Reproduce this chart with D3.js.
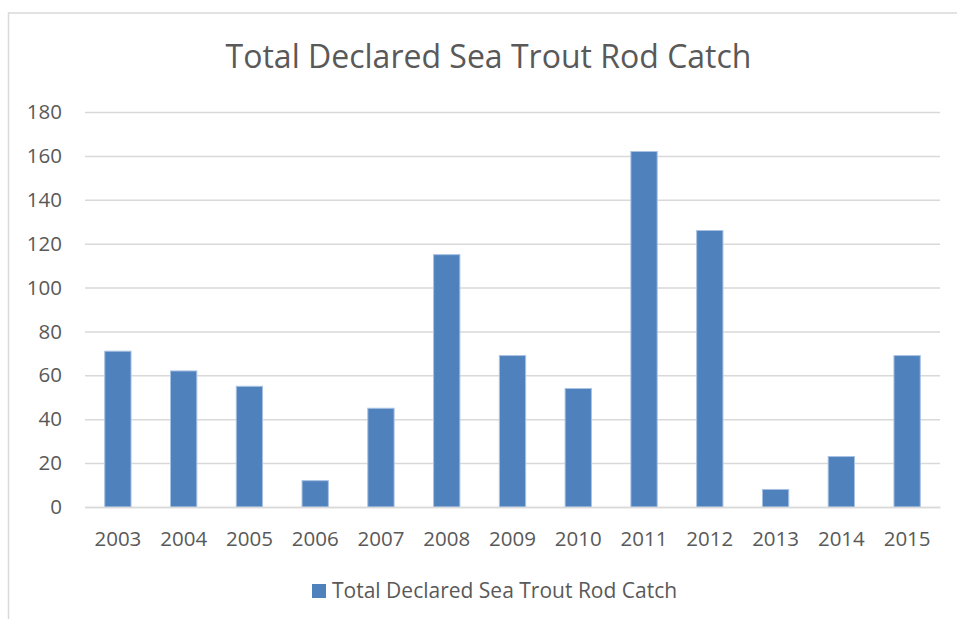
<!DOCTYPE html>
<html>
<head>
<meta charset="utf-8">
<script src="https://cdn.jsdelivr.net/npm/d3@7"></script>
<style>
  html, body { margin: 0; padding: 0; background: #fff; }
  svg { display: block; }
  text { font-family: "Open Sans", "Noto Sans", sans-serif; fill: #595959; }
</style>
</head>
<body>
<svg id="chart" width="957" height="619"></svg>
<script>
const years = ["2003","2004","2005","2006","2007","2008","2009","2010","2011","2012","2013","2014","2015"];
const catchValues = [71, 62, 55, 12, 45, 115, 69, 54, 162, 126, 8, 23, 69];
const yTicks = [0, 20, 40, 60, 80, 100, 120, 140, 160, 180];
const titleText = "Total Declared Sea Trout Rod Catch";
const seriesName = "Total Declared Sea Trout Rod Catch";

(function () {
const svg = d3.select("#chart");
const W = 957, H = 619;
const pLeft = 85, pRight = 940, pTop = 112, pBottom = 507;

// outer chart border
svg.append("rect")
  .attr("x", 8.5).attr("y", 13)
  .attr("width", W).attr("height", H)
  .attr("fill", "#fff")
  .attr("stroke", "#d9d9d9").attr("stroke-width", 1.5);

const x = d3.scaleBand().domain(years).range([pLeft, pRight]).paddingInner(0.6).paddingOuter(0.3);
const y = d3.scaleLinear().domain([0, 180]).range([pBottom, pTop]);

// gridlines
const yAxis = d3.axisLeft(y).tickValues(yTicks).tickSize(-(pRight - pLeft)).tickPadding(23);
const gy = svg.append("g").attr("transform", `translate(${pLeft},0)`).call(yAxis);
gy.select(".domain").remove();
gy.selectAll(".tick line").attr("stroke", "#d9d9d9").attr("stroke-width", 1.5);
gy.selectAll(".tick text").style("font-size", "20.5px").attr("fill", "#595959");

// bars
svg.append("g").selectAll("rect").data(years).join("rect")
  .attr("x", d => x(d))
  .attr("width", x.bandwidth())
  .attr("y", (d, i) => y(catchValues[i]))
  .attr("height", (d, i) => y(0) - y(catchValues[i]))
  .attr("fill", "#4f81bd")
  .attr("stroke", "#a9c1e3").attr("stroke-width", 1);

// x axis
const xAxis = d3.axisBottom(x).tickSize(0).tickPadding(24);
const gx = svg.append("g").attr("transform", `translate(0,${pBottom})`).call(xAxis);
gx.select(".domain").attr("stroke", "#d9d9d9").attr("stroke-width", 1.5);
gx.selectAll(".tick text").style("font-size", "20.5px").attr("fill", "#595959");

// title
svg.append("text")
  .attr("x", 488.5).attr("y", 68)
  .attr("text-anchor", "middle")
  .style("font-size", "32px")
  .text(titleText);

// legend
const lg = svg.append("g");
lg.append("rect").attr("x", 312).attr("y", 584).attr("width", 14).attr("height", 14).attr("fill", "#4f81bd");
lg.append("text").attr("x", 332).attr("y", 598).style("font-size", "21px").text(seriesName);
})();
</script>
</body>
</html>
